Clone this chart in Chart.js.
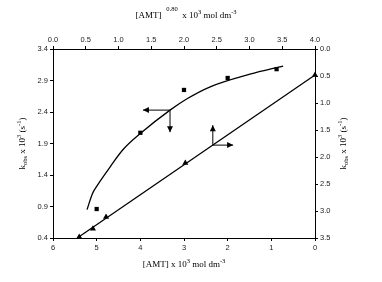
<!DOCTYPE html>
<html><head><meta charset="utf-8">
<script src="https://cdn.jsdelivr.net/npm/chart.js@4/dist/chart.umd.min.js"></script>
<style>html,body{margin:0;padding:0;background:#fff}</style>
</head><body>
<canvas id="c" width="382" height="282"></canvas>
<script>
// Tick labels
const amtTicks = [6, 5, 4, 3, 2, 1, 0];
const amt08Ticks = [0, 0.5, 1.0, 1.5, 2.0, 2.5, 3.0, 3.5, 4.0];
const kLeftTicks = [0.4, 0.9, 1.4, 1.9, 2.4, 2.9, 3.4];
const kRightTicks = [0, 0.5, 1.0, 1.5, 2.0, 2.5, 3.0, 3.5];

// Squares: k_obs vs [AMT] (bottom / left)
const squareAmt = [5.0, 4.0, 3.0, 2.0, 0.88];
const squareK = [0.86, 2.07, 2.75, 2.94, 3.08];
// Fitted curve (bottom / left)
const curveAmt = [5.22, 5.10, 5.00, 4.69, 4.40, 3.98, 3.32, 2.93, 2.40, 1.49, 0.73];
const curveK = [0.85, 1.10, 1.22, 1.53, 1.80, 2.07, 2.43, 2.61, 2.80, 3.00, 3.13];
// Triangles: k_obs vs [AMT]^0.80 (top / right)
const triAmt08 = [0.40, 0.61, 0.81, 2.02, 4.0];
const triK = [3.48, 3.33, 3.11, 2.11, 0.48];
// Straight line (top / right)
const lineAmt08 = [0.37, 4.0];
const lineK = [3.50, 0.48];

// Arrow annotations (data units)
const curveArrow = {x: 3.32, y: 2.43, toX: 3.94, toY: 2.08};
const lineArrow = {x: 2.44, y: 1.78, toX: 2.75, toY: 1.41};

const pts = (xs, ys) => xs.map((x, i) => ({x: x, y: ys[i]}));
const tickFont = {family: 'Liberation Sans, Arial, sans-serif', size: 7.5};
const tickColor = '#222';

function axisCommon(ticksArr, fmt, fitFn) {
  return {
    type: 'linear',
    grid: {display: true, drawOnChartArea: false, drawTicks: true, tickLength: 3, color: '#000', lineWidth: 1},
    border: {display: true, color: '#000', width: 1},
    ticks: {font: tickFont, color: tickColor, padding: 2, autoSkip: false, maxRotation: 0, callback: fmt},
    afterBuildTicks: s => { s.ticks = ticksArr.map(v => ({value: v})); },
    afterFit: fitFn
  };
}

function rich(ctx, parts, cx, cy) {
  const nf = '9px "Liberation Serif", "Times New Roman", serif';
  const sf = '6.5px "Liberation Serif", "Times New Roman", serif';
  let w = 0;
  parts.forEach(p => { ctx.font = p[1] === 'n' ? nf : sf; w += ctx.measureText(p[0]).width; });
  let x = cx - w / 2;
  ctx.textBaseline = 'alphabetic';
  ctx.textAlign = 'left';
  parts.forEach(p => {
    ctx.font = p[1] === 'n' ? nf : sf;
    let dy = 0;
    if (p[1] === 'sup') dy = -4;
    if (p[1] === 'hsup') dy = -7;
    if (p[1] === 'sub') dy = 2;
    ctx.fillText(p[0], x, cy + dy);
    x += ctx.measureText(p[0]).width;
  });
}

function arrowLine(ctx, x0, y0, x1, y1) {
  ctx.beginPath(); ctx.moveTo(x0, y0); ctx.lineTo(x1, y1); ctx.stroke();
  const a = Math.atan2(y1 - y0, x1 - x0), L = 6, W = 3;
  ctx.beginPath();
  ctx.moveTo(x1, y1);
  ctx.lineTo(x1 - L * Math.cos(a) + W * Math.sin(a), y1 - L * Math.sin(a) - W * Math.cos(a));
  ctx.lineTo(x1 - L * Math.cos(a) - W * Math.sin(a), y1 - L * Math.sin(a) + W * Math.cos(a));
  ctx.closePath(); ctx.fill();
}

const decor = {
  id: 'decor',
  afterDraw(chart) {
    const ctx = chart.ctx, ca = chart.chartArea, s = chart.scales;
    ctx.save();
    ctx.fillStyle = '#000'; ctx.strokeStyle = '#000'; ctx.lineWidth = 1;
    // arrows
    let px = s.x.getPixelForValue(curveArrow.x), py = s.y.getPixelForValue(curveArrow.y);
    arrowLine(ctx, px, py, s.x.getPixelForValue(curveArrow.toX), py);
    arrowLine(ctx, px, py, px, s.y.getPixelForValue(curveArrow.toY));
    px = s.x2.getPixelForValue(lineArrow.x); py = s.y2.getPixelForValue(lineArrow.y);
    arrowLine(ctx, px, py, px, s.y2.getPixelForValue(lineArrow.toY));
    arrowLine(ctx, px, py, s.x2.getPixelForValue(lineArrow.toX), py);
    // titles
    const cx = (ca.left + ca.right) / 2, cy = (ca.top + ca.bottom) / 2;
    rich(ctx, [['[AMT] x 10', 'n'], ['3', 'sup'], [' mol dm', 'n'], ['-3', 'sup']], cx, 267);
    rich(ctx, [['[AMT]', 'n'], ['   0.80', 'hsup'], ['  x 10', 'n'], ['3', 'sup'], [' mol dm', 'n'], ['-3', 'sup']], cx + 2, 18);
    const kParts = [['k', 'n'], ['obs', 'sub'], [' x 10', 'n'], ['3', 'sup'], [' (s', 'n'], ['-1', 'sup'], [')', 'n']];
    ctx.save(); ctx.translate(25, cy); ctx.rotate(-Math.PI / 2); rich(ctx, kParts, 0, 0); ctx.restore();
    ctx.save(); ctx.translate(346, cy); ctx.rotate(-Math.PI / 2); rich(ctx, kParts, 0, 0); ctx.restore();
    ctx.restore();
  }
};

new Chart(document.getElementById('c'), {
  type: 'scatter',
  data: {
    datasets: [
      {data: pts(curveAmt, curveK), xAxisID: 'x', yAxisID: 'y', showLine: true, cubicInterpolationMode: 'monotone',
       borderColor: '#000', borderWidth: 1.3, pointRadius: 0},
      {data: pts(squareAmt, squareK), xAxisID: 'x', yAxisID: 'y', pointStyle: 'rect', pointRadius: 3,
       backgroundColor: '#000', borderColor: '#000', borderWidth: 0},
      {data: pts(lineAmt08, lineK), xAxisID: 'x2', yAxisID: 'y2', showLine: true,
       borderColor: '#000', borderWidth: 1.3, pointRadius: 0},
      {data: pts(triAmt08, triK), xAxisID: 'x2', yAxisID: 'y2', pointStyle: 'triangle', pointRadius: 3.5,
       backgroundColor: '#000', borderColor: '#000', borderWidth: 0}
    ]
  },
  options: {
    responsive: false, animation: false, devicePixelRatio: 1,
    clip: false,
    layout: {padding: 0},
    plugins: {legend: {display: false}, tooltip: {enabled: false}},
    scales: {
      x: Object.assign(axisCommon(amtTicks, v => String(v), s => { s.height = 44; }),
        {position: 'bottom', min: 0, max: 6, reverse: true}),
      x2: Object.assign(axisCommon(amt08Ticks, v => v.toFixed(1), s => { s.height = 49; }),
        {position: 'top', min: 0, max: 4}),
      y: Object.assign(axisCommon(kLeftTicks, v => v.toFixed(1), s => { s.width = 53; }),
        {position: 'left', min: 0.4, max: 3.4}),
      y2: Object.assign(axisCommon(kRightTicks, v => v.toFixed(1), s => { s.width = 67; }),
        {position: 'right', min: 0, max: 3.5, reverse: true})
    }
  },
  plugins: [decor]
});
</script>
</body></html>
